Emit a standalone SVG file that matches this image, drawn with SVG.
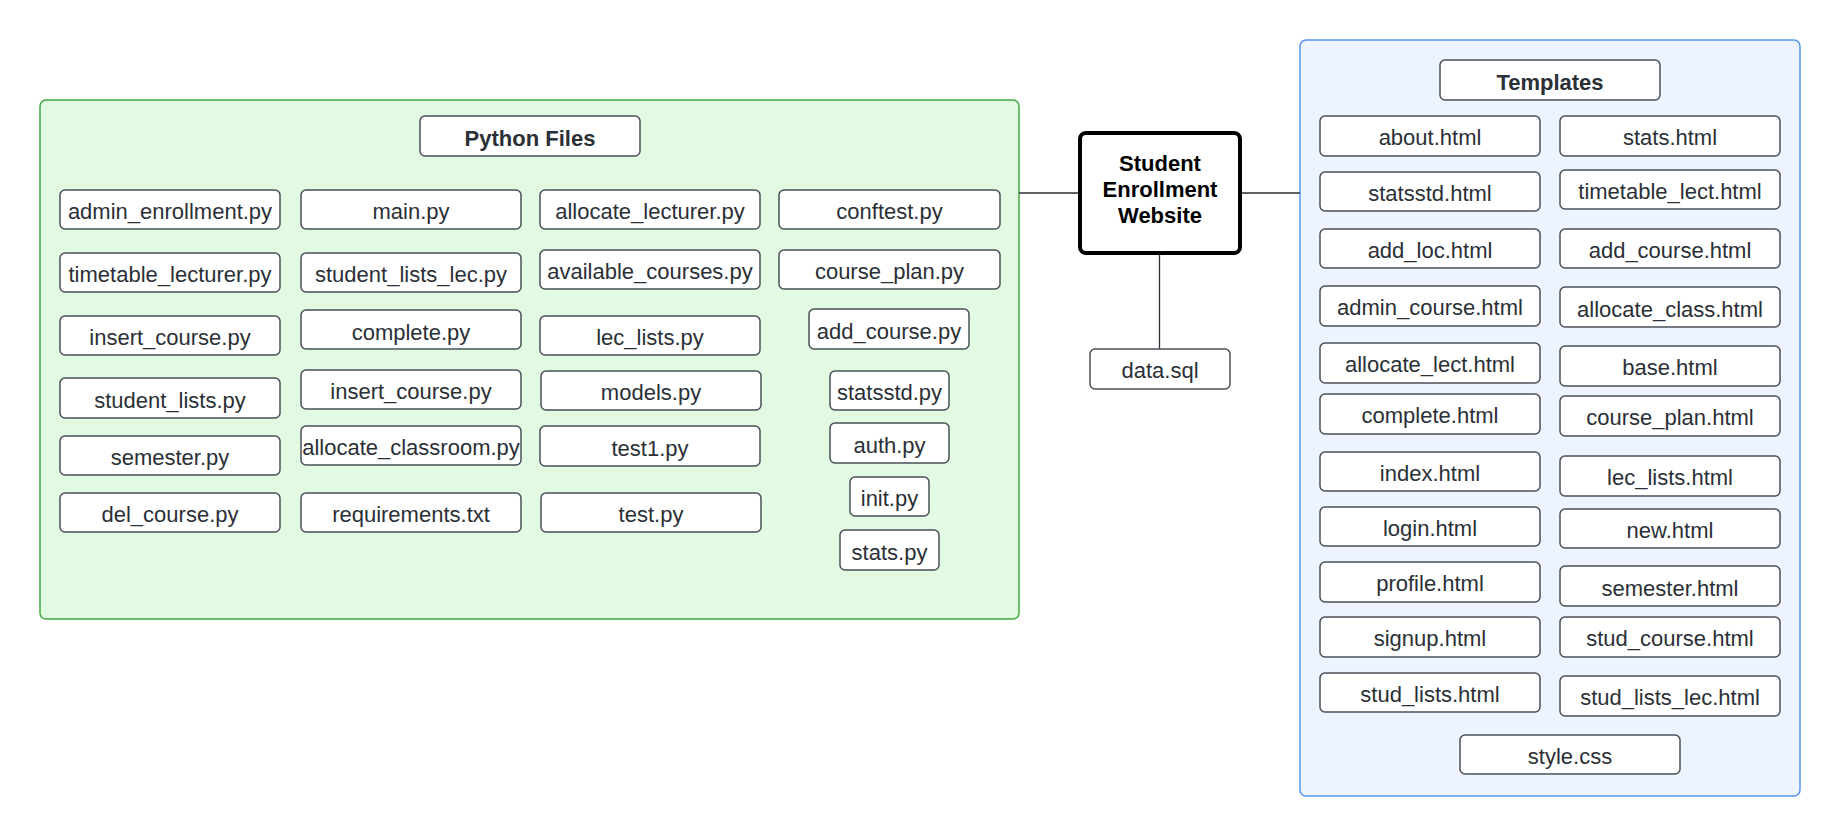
<svg xmlns="http://www.w3.org/2000/svg" width="1840" height="836" viewBox="0 0 1840 836">
<style>
.bg{fill:#ffffff}
.gc{fill:#e2f9e2;stroke:#43a943;stroke-width:1.5}
.bc{fill:#edf4ff;stroke:#5596ec;stroke-width:1.5}
.n rect{fill:#ffffff;stroke:#4a5058;stroke-width:1.5}
.n text{font-family:"Liberation Sans",Arial,sans-serif;font-size:22px;fill:#2b2f36;text-anchor:middle}
.h text{font-weight:bold}
.c rect{fill:#ffffff;stroke:#000000;stroke-width:4}
.c text{font-family:"Liberation Sans",Arial,sans-serif;font-size:22px;font-weight:bold;fill:#000000;text-anchor:middle}
.e{stroke:#2b2f36;stroke-width:1.3;fill:none}
</style>
<rect class="bg" x="0" y="0" width="1840" height="836"/>
<rect id="python-container" class="gc" x="40" y="100" width="979" height="519" rx="6"/>
<rect id="templates-container" class="bc" x="1300" y="40" width="500" height="756" rx="6"/>
<g id="connectors">
<line class="e" x1="1019" y1="193" x2="1080" y2="193"/>
<line class="e" x1="1240" y1="193" x2="1300" y2="193"/>
<line class="e" x1="1159.5" y1="253" x2="1159.5" y2="349"/>
</g>
<g id="center" class="c"><rect x="1080" y="133" width="160" height="120" rx="6"/><text x="1160" y="171">Student</text><text x="1160" y="197">Enrollment</text><text x="1160" y="223">Website</text></g>
<g id="data-sql" class="n"><rect x="1090" y="349" width="140" height="40" rx="5"/><text x="1160" y="378">data.sql</text></g>
<g id="python-files" class="n h"><rect x="420" y="116" width="220" height="40" rx="5"/><text x="530" y="146">Python Files</text></g>
<g id="p-admin-enrollment" class="n"><rect x="60" y="190" width="220" height="39" rx="5"/><text x="170" y="219">admin_enrollment.py</text></g>
<g id="p-timetable-lecturer" class="n"><rect x="60" y="253" width="220" height="39" rx="5"/><text x="170" y="282">timetable_lecturer.py</text></g>
<g id="p-insert-course-1" class="n"><rect x="60" y="316" width="220" height="39" rx="5"/><text x="170" y="345">insert_course.py</text></g>
<g id="p-student-lists" class="n"><rect x="60" y="378" width="220" height="40" rx="5"/><text x="170" y="408">student_lists.py</text></g>
<g id="p-semester" class="n"><rect x="60" y="436" width="220" height="39" rx="5"/><text x="170" y="465">semester.py</text></g>
<g id="p-del-course" class="n"><rect x="60" y="493" width="220" height="39" rx="5"/><text x="170" y="522">del_course.py</text></g>
<g id="p-main" class="n"><rect x="301" y="190" width="220" height="39" rx="5"/><text x="411" y="219">main.py</text></g>
<g id="p-student-lists-lec" class="n"><rect x="301" y="253" width="220" height="39" rx="5"/><text x="411" y="282">student_lists_lec.py</text></g>
<g id="p-complete" class="n"><rect x="301" y="310" width="220" height="39" rx="5"/><text x="411" y="340">complete.py</text></g>
<g id="p-insert-course-2" class="n"><rect x="301" y="370" width="220" height="39" rx="5"/><text x="411" y="399">insert_course.py</text></g>
<g id="p-allocate-classroom" class="n"><rect x="301" y="426" width="220" height="39" rx="5"/><text x="411" y="455">allocate_classroom.py</text></g>
<g id="p-requirements" class="n"><rect x="301" y="493" width="220" height="39" rx="5"/><text x="411" y="522">requirements.txt</text></g>
<g id="p-allocate-lecturer" class="n"><rect x="540" y="190" width="220" height="39" rx="5"/><text x="650" y="219">allocate_lecturer.py</text></g>
<g id="p-available-courses" class="n"><rect x="540" y="250" width="220" height="39" rx="5"/><text x="650" y="279">available_courses.py</text></g>
<g id="p-lec-lists" class="n"><rect x="540" y="316" width="220" height="39" rx="5"/><text x="650" y="345">lec_lists.py</text></g>
<g id="p-models" class="n"><rect x="541" y="371" width="220" height="39" rx="5"/><text x="651" y="400">models.py</text></g>
<g id="p-test1" class="n"><rect x="540" y="426" width="220" height="40" rx="5"/><text x="650" y="456">test1.py</text></g>
<g id="p-test" class="n"><rect x="541" y="493" width="220" height="39" rx="5"/><text x="651" y="522">test.py</text></g>
<g id="p-conftest" class="n"><rect x="779" y="190" width="221" height="39" rx="5"/><text x="889.5" y="219">conftest.py</text></g>
<g id="p-course-plan" class="n"><rect x="779" y="250" width="221" height="39" rx="5"/><text x="889.5" y="279">course_plan.py</text></g>
<g id="p-add-course" class="n"><rect x="809" y="309" width="160" height="40" rx="5"/><text x="889" y="339">add_course.py</text></g>
<g id="p-statsstd" class="n"><rect x="830" y="371" width="119" height="39" rx="5"/><text x="889.5" y="400">statsstd.py</text></g>
<g id="p-auth" class="n"><rect x="830" y="423" width="119" height="40" rx="5"/><text x="889.5" y="453">auth.py</text></g>
<g id="p-init" class="n"><rect x="850" y="477" width="79" height="39" rx="5"/><text x="889.5" y="506">init.py</text></g>
<g id="p-stats" class="n"><rect x="840" y="530" width="99" height="40" rx="5"/><text x="889.5" y="560">stats.py</text></g>
<g id="templates" class="n h"><rect x="1440" y="60" width="220" height="40" rx="5"/><text x="1550" y="90">Templates</text></g>
<g id="t-about" class="n"><rect x="1320" y="116" width="220" height="40" rx="5"/><text x="1430" y="145">about.html</text></g>
<g id="t-statsstd" class="n"><rect x="1320" y="172" width="220" height="39" rx="5"/><text x="1430" y="201">statsstd.html</text></g>
<g id="t-add-loc" class="n"><rect x="1320" y="229" width="220" height="39" rx="5"/><text x="1430" y="258">add_loc.html</text></g>
<g id="t-admin-course" class="n"><rect x="1320" y="286" width="220" height="40" rx="5"/><text x="1430" y="315">admin_course.html</text></g>
<g id="t-allocate-lect" class="n"><rect x="1320" y="343" width="220" height="40" rx="5"/><text x="1430" y="372">allocate_lect.html</text></g>
<g id="t-complete" class="n"><rect x="1320" y="394" width="220" height="40" rx="5"/><text x="1430" y="423">complete.html</text></g>
<g id="t-index" class="n"><rect x="1320" y="452" width="220" height="39" rx="5"/><text x="1430" y="481">index.html</text></g>
<g id="t-login" class="n"><rect x="1320" y="507" width="220" height="39" rx="5"/><text x="1430" y="536">login.html</text></g>
<g id="t-profile" class="n"><rect x="1320" y="562" width="220" height="40" rx="5"/><text x="1430" y="591">profile.html</text></g>
<g id="t-signup" class="n"><rect x="1320" y="617" width="220" height="40" rx="5"/><text x="1430" y="646">signup.html</text></g>
<g id="t-stud-lists" class="n"><rect x="1320" y="673" width="220" height="39" rx="5"/><text x="1430" y="702">stud_lists.html</text></g>
<g id="t-stats" class="n"><rect x="1560" y="116" width="220" height="40" rx="5"/><text x="1670" y="145">stats.html</text></g>
<g id="t-timetable-lect" class="n"><rect x="1560" y="170" width="220" height="39" rx="5"/><text x="1670" y="199">timetable_lect.html</text></g>
<g id="t-add-course" class="n"><rect x="1560" y="229" width="220" height="39" rx="5"/><text x="1670" y="258">add_course.html</text></g>
<g id="t-allocate-class" class="n"><rect x="1560" y="287" width="220" height="40" rx="5"/><text x="1670" y="317">allocate_class.html</text></g>
<g id="t-base" class="n"><rect x="1560" y="346" width="220" height="40" rx="5"/><text x="1670" y="375">base.html</text></g>
<g id="t-course-plan" class="n"><rect x="1560" y="396" width="220" height="40" rx="5"/><text x="1670" y="425">course_plan.html</text></g>
<g id="t-lec-lists" class="n"><rect x="1560" y="456" width="220" height="40" rx="5"/><text x="1670" y="485">lec_lists.html</text></g>
<g id="t-new" class="n"><rect x="1560" y="509" width="220" height="39" rx="5"/><text x="1670" y="538">new.html</text></g>
<g id="t-semester" class="n"><rect x="1560" y="566" width="220" height="40" rx="5"/><text x="1670" y="596">semester.html</text></g>
<g id="t-stud-course" class="n"><rect x="1560" y="617" width="220" height="40" rx="5"/><text x="1670" y="646">stud_course.html</text></g>
<g id="t-stud-lists-lec" class="n"><rect x="1560" y="676" width="220" height="40" rx="5"/><text x="1670" y="705">stud_lists_lec.html</text></g>
<g id="t-style" class="n"><rect x="1460" y="735" width="220" height="39" rx="5"/><text x="1570" y="764">style.css</text></g>
</svg>
